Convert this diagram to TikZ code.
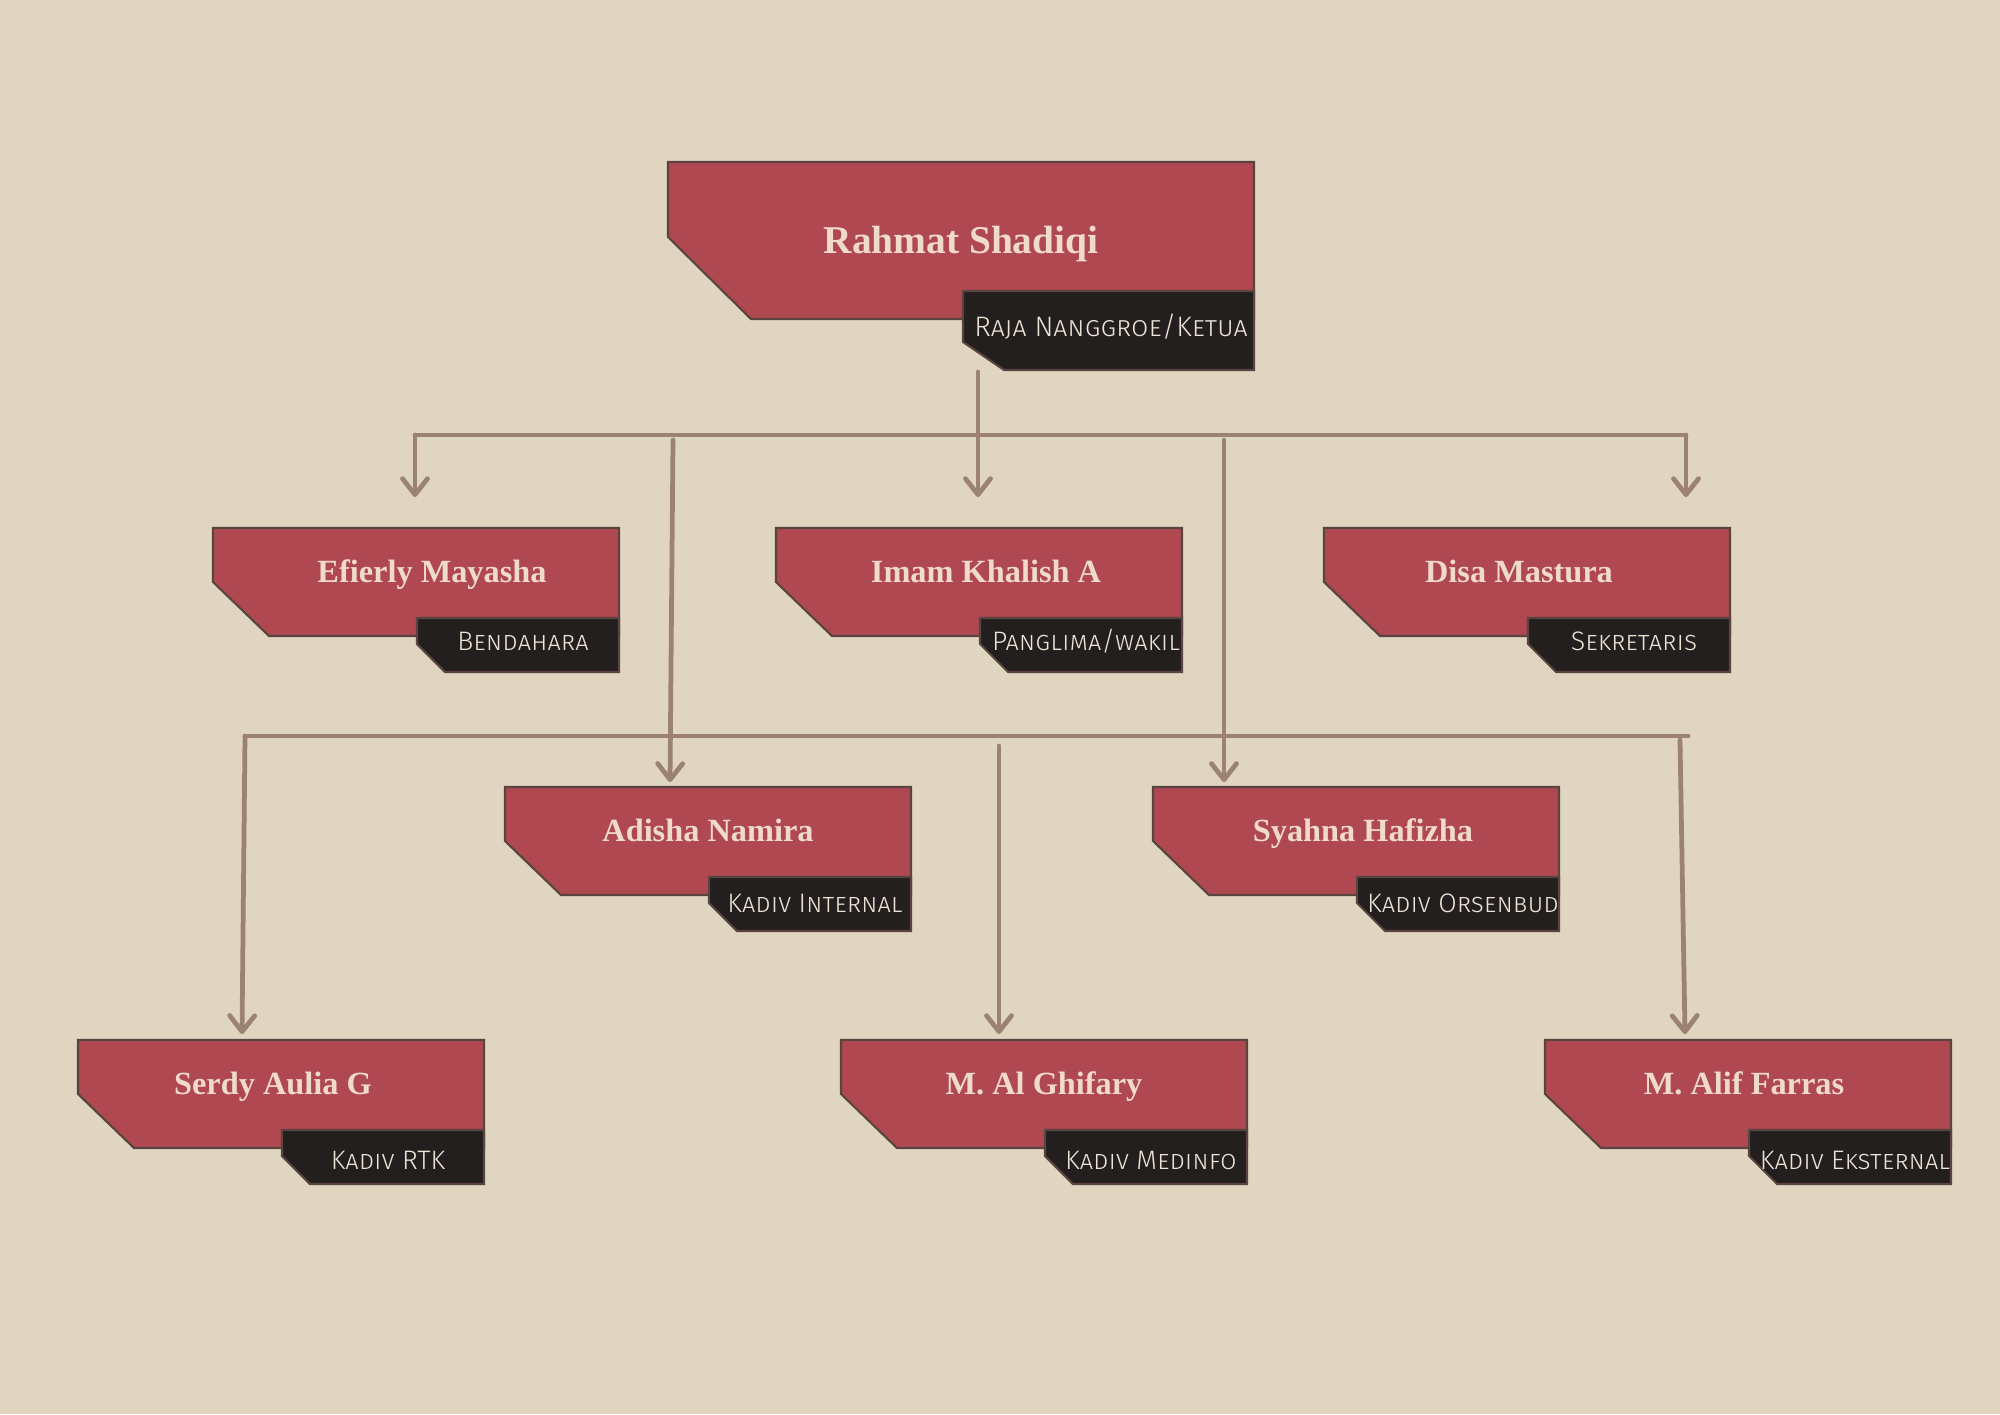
\documentclass[tikz,border=0pt]{standalone}
\usepackage{fontspec}
\setmainfont{Liberation Serif}
\newfontfamily\rolefont{Fira Sans Light}
\usetikzlibrary{arrows.meta}

\definecolor{bgbeige}{HTML}{E0D5C1}
\definecolor{boxred}{HTML}{B04852}
\definecolor{boxedge}{HTML}{5A4440}
\definecolor{roleblack}{HTML}{231F1E}
\definecolor{nametext}{HTML}{F0DACC}
\definecolor{roletext}{HTML}{EDE3D6}
\definecolor{linkbrown}{HTML}{9C8274}

\tikzset{
  redbox/.style={fill=boxred,draw=boxedge,line width=0.6pt},
  rolebox/.style={fill=roleblack,draw=boxedge,line width=0.6pt},
  namelabel/.style={text=nametext,font=\bfseries\fontsize{9.2}{11}\selectfont,inner sep=0pt,anchor=base},
  rolelabel/.style={text=roletext,font=\rolefont\fontsize{7.6}{9}\selectfont\scshape,inner sep=0pt,anchor=base},
  link/.style={draw=linkbrown,line width=1.35pt,line cap=round},
  linkarrow/.style={link,-{Straight Barb[length=1.6mm,width=2.5mm,round]}}
}

% one member box: name, x, y (top left), person, role, name centre, role baseline
\newcommand{\orgbox}[7]{%
  \begin{scope}[shift={(#2,#3)}]
    \draw[redbox] (0,0) -- (406,0) -- (406,108) -- (56,108) -- (0,54) -- cycle;
    \draw[rolebox] (204,90) -- (406,90) -- (406,144) -- (232,144) -- (204,116) -- cycle;
    \node[namelabel] (#1) at (#6,54) {#4};
    \node[rolelabel] (#1-role) at (310,#7) {#5};
  \end{scope}}

\begin{document}
\begin{tikzpicture}[x=0.01cm,y=-0.01cm]
  \fill[bgbeige] (0,0) rectangle (2000,1414);
  \useasboundingbox (0,0) rectangle (2000,1414);

  % ketua
  \draw[redbox] (668,162) -- (1254,162) -- (1254,319) -- (751,319) -- (668,237) -- cycle;
  \draw[rolebox] (963,291) -- (1254,291) -- (1254,370) -- (1004,370) -- (963,342) -- cycle;
  \node[namelabel,font=\bfseries\fontsize{11.2}{13}\selectfont] (rahmat) at (961,253) {Rahmat Shadiqi};
  \node[rolelabel,font=\rolefont\fontsize{8}{10}\selectfont\scshape] (rahmat-role) at (1111,336) {Raja Nanggroe/Ketua};

  % pengurus inti
  \orgbox{efierly}{213}{528}{Efierly Mayasha}{Bendahara}{219}{122}
  \orgbox{imam}{776}{528}{Imam Khalish A}{Panglima/wakil}{210}{122}
  \orgbox{disa}{1324}{528}{Disa Mastura}{Sekretaris}{195}{122}

  % kadiv
  \orgbox{adisha}{505}{787}{Adisha Namira}{Kadiv Internal}{203}{125}
  \orgbox{syahna}{1153}{787}{Syahna Hafizha}{Kadiv Orsenbud}{210}{125}
  \orgbox{serdy}{78}{1040}{Serdy Aulia G}{Kadiv RTK}{195}{129}
  \orgbox{ghifary}{841}{1040}{M. Al Ghifary}{Kadiv Medinfo}{203}{129}
  \orgbox{alif}{1545}{1040}{M. Alif Farras}{Kadiv Eksternal}{199}{129}

  % connectors
  \coordinate (ketua-out) at (978,372);
  \coordinate (bus1-a) at (415,435);
  \coordinate (bus1-b) at (1686,435);
  \coordinate (bus2-a) at (245,736);
  \coordinate (bus2-b) at (1688,736);
  \coordinate (adisha-from) at (673,440);
  \coordinate (syahna-from) at (1224,440);
  \coordinate (ghifary-from) at (999,746);
  \coordinate (alif-from) at (1680,740);
  \coordinate (imam-in) at (978,497);
  \coordinate (efierly-in) at (415,497);
  \coordinate (disa-in) at (1686,497);
  \coordinate (adisha-in) at (670,782);
  \coordinate (syahna-in) at (1224,782);
  \coordinate (serdy-in) at (242,1034);
  \coordinate (ghifary-in) at (999,1034);
  \coordinate (alif-in) at (1685,1034);

  \draw[link] (bus1-a) -- (bus1-b);
  \draw[link] (bus2-a) -- (bus2-b);
  \draw[linkarrow] (ketua-out) -- (imam-in);
  \draw[linkarrow] (bus1-a) -- (efierly-in);
  \draw[linkarrow] (bus1-b) -- (disa-in);
  \draw[linkarrow] (adisha-from) -- (adisha-in);
  \draw[linkarrow] (syahna-from) -- (syahna-in);
  \draw[linkarrow] (bus2-a) -- (serdy-in);
  \draw[linkarrow] (ghifary-from) -- (ghifary-in);
  \draw[linkarrow] (alif-from) -- (alif-in);
\end{tikzpicture}
\end{document}
